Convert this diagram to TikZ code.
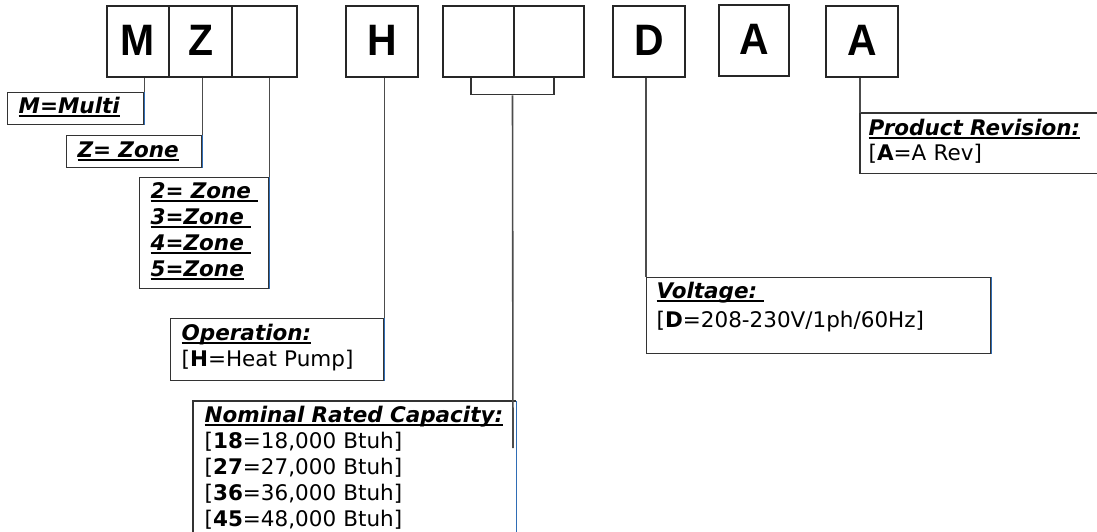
\documentclass[tikz,border=0pt]{standalone}
\usepackage{fontspec}
\newfontfamily\keyfont{DejaVu Sans}
\newfontfamily\codefont[FakeStretch=0.93]{Liberation Sans}
\definecolor{edgeblue}{HTML}{2F6DB5}
% underlined heading of a key box
\newcommand\keyul[1]{\leavevmode\setbox0=\hbox{#1}\rlap{\rule[-3pt]{\wd0}{1.9pt}}\box0}
\newcommand\keyhead[1]{{\bfseries\itshape\keyul{#1}}}
\begin{document}
\begin{tikzpicture}[x=1pt,y=-1pt,
    codebox/.style={draw=black!85, line width=2.8pt, minimum height=71pt, inner sep=0pt,
      text height=32pt, text depth=5pt, font=\codefont\fontsize{44}{44}\selectfont\bfseries},
    keybox/.style={draw=black!80, line width=1.3pt, anchor=north west, inner ysep=0pt,
      inner xsep=11pt, align=left, font=\keyfont\fontsize{21.5}{26}\selectfont},
    keyframe/.style={draw=black!80, line width=1.3pt},
    lead/.style={draw=black!70, line width=1.6pt}]
    \useasboundingbox (0,0) rectangle (1097,531);

    % bracket under the two capacity digits
    \node[keyframe, minimum width=83pt, minimum height=17pt, inner sep=0pt, anchor=north] (capbrace) at (512.5,77) {};

    % model number boxes
    \node[codebox, minimum width=62pt] (m) at (138,41.5) {M};
    \node[codebox, minimum width=63pt] (z) at (200.5,41.5) {Z};
    \node[codebox, minimum width=65pt] (zn) at (264.5,41.5) {};
    \node[codebox, minimum width=72pt] (h) at (382,41.5) {H};
    \node[codebox, minimum width=71pt] (cap1) at (478.5,41.5) {};
    \node[codebox, minimum width=70pt] (cap2) at (549,41.5) {};
    \node[codebox, minimum width=72pt] (d) at (649,41.5) {D};
    \node[codebox, minimum width=70pt] (a1) at (754,40.5) {A};
    \node[codebox, minimum width=72pt] (a2) at (862,41.5) {A};

    % key boxes
    \node[keybox, text width=114pt, text height=21pt, text depth=11pt] (multi) at (7,92) {\keyhead{M=Multi}};
    \node[keybox, text width=113pt, text height=22pt, text depth=10pt] (zonez) at (66,135) {\keyhead{Z= Zone}};
    \node[keybox, text width=107pt, text height=21pt, text depth=90pt] (zonelist) at (139,177)
      {\keyhead{2= Zone\ }\\ \keyhead{3=Zone\ }\\ \keyhead{4=Zone\ }\\ \keyhead{5=Zone}};
    \node[keybox, text width=191pt, text height=22pt, text depth=40pt] (oper) at (170,318)
      {\keyhead{Operation:}\\ {[}\textbf{H}=Heat Pump]};
    \node[keybox, draw=none, text width=300pt, text height=21pt, text depth=109pt] (capac) at (193,401)
      {\keyhead{Nominal Rated Capacity:}\\ {[}\textbf{18}=18,000 Btuh]\\ {[}\textbf{27}=27,000 Btuh]\\
       {[}\textbf{36}=36,000 Btuh]\\ {[}\textbf{45}=48,000 Btuh]};
    \node[keybox, inner xsep=10pt, text width=324pt, text height=21pt, text depth=55pt] (volt) at (646,277)
      {\keyhead{Voltage:\ }\\[3pt] {[}\textbf{D}=208-230V/1ph/60Hz]};
    \node[keybox, draw=none, inner xsep=8pt, text width=221pt, text height=22pt, text depth=37pt] (prodrev) at (860,113)
      {\keyhead{Product Revision:}\\[-1pt] {[}\textbf{A}=A Rev]};

    % open frames
    \draw[keyframe] (capac.south west) |- (capac.north east);
    \draw[keyframe] (prodrev.north east) -| (prodrev.south west) -- (prodrev.south east);
    \foreach \b in {multi,zonez,zonelist,oper,volt,capac}
      \draw[edgeblue, line width=1.3pt] (\b.north east) -- (\b.south east);

    % leader lines
    \coordinate (capend) at (513,448);
    \draw[lead] (m.south -| multi.north east) -- (multi.north east);
    \draw[lead] (z.south -| zonez.north east) -- (zonez.north east);
    \draw[lead] (zn.south -| zonelist.north east) -- (zonelist.north east);
    \draw[lead] (h.south -| oper.north east) -- (oper.north east);
    \draw[lead] (capbrace.south) -- (capend);
    \draw[lead] (d.south -| volt.north west) -- (volt.north west);
    \draw[lead] (a2.south -| prodrev.north west) -- (prodrev.north west);
\end{tikzpicture}
\end{document}
